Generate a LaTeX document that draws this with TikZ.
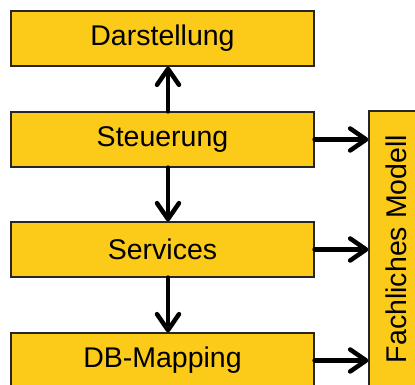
\documentclass[tikz,border=0pt]{standalone}
\usepackage{fontspec}
\setmainfont{Liberation Sans}
\usetikzlibrary{arrows.meta}

\definecolor{schicht}{RGB}{252,202,24}

\tikzset{
  layer/.style={draw=black!85, line width=1.2pt, fill=schicht,
    minimum width=303pt, minimum height=55pt, inner sep=0pt,
    font=\fontsize{28.5}{34}\selectfont},
  conn/.style={line width=4.5pt, line cap=round,
    -{Straight Barb[length=16pt, width=22pt, line cap=round, line join=round]}}
}

\begin{document}
\begin{tikzpicture}[x=1pt, y=1pt]
\begin{scope}
  \clip (0,0) rectangle (415,385);

  % Schichten links
  \node[layer] (darst) at (162.5,346.5) {Darstellung};
  \node[layer] (steuer) at (162.5,245.5) {Steuerung};
  \node[layer] (serv) at (162.5,135.5) {Services};
  \node[layer] (dbmap) at (162.5,24.5) {DB-Mapping};

  % Fachliches Modell, rechts senkrecht
  \node[layer, minimum width=276pt, rotate=90] (modell) at (396.5,136) {Fachliches Modell};

  % Pfeile zwischen den Schichten
  \draw[conn] (steuer.north -| 168,0) -- (darst.south -| 168,0);
  \draw[conn] (steuer.south -| 168,0) -- (serv.north -| 168,0);
  \draw[conn] (serv.south -| 168,0) -- (dbmap.north -| 168,0);

  % Pfeile zum Modell
  \draw[conn] (steuer.east) -- (steuer.east -| modell.north);
  \draw[conn] (serv.east) -- (serv.east -| modell.north);
  \draw[conn] (dbmap.east) -- (dbmap.east -| modell.north);
\end{scope}
\end{tikzpicture}
\end{document}
